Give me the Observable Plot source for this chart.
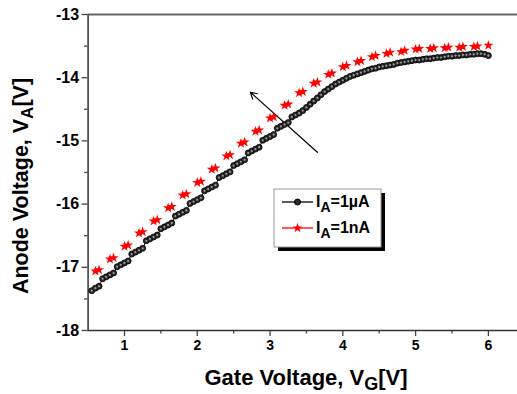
<!DOCTYPE html>
<html>
<head>
<meta charset="utf-8">
<script src="https://cdn.jsdelivr.net/npm/d3@7"></script>
<script src="https://cdn.jsdelivr.net/npm/@observablehq/plot@0.6"></script>
<style>
  html, body { margin: 0; padding: 0; background: #fff; }
  #chart { position: relative; width: 517px; height: 394px; overflow: hidden; }
</style>
</head>
<body>
<div id="chart"></div>
<script>
// ---- data ----
const xTicks = [1, 2, 3, 4, 5, 6];
const xMinor = [1.5, 2.5, 3.5, 4.5, 5.5];
const yTicks = [-18, -17, -16, -15, -14, -13];
const yMinor = [-17.5, -16.5, -15.5, -14.5, -13.5];

// I_A = 1 µA (black circles)
const blackX = [0.55,0.60,0.65,0.70,0.75,0.80,0.85,0.90,0.95,1.00,1.05,1.10,1.15,1.20,1.25,1.30,1.35,1.40,1.45,1.50,1.55,1.60,1.65,1.70,1.75,1.80,1.85,1.90,1.95,2.00,2.05,2.10,2.15,2.20,2.25,2.30,2.35,2.40,2.45,2.50,2.55,2.60,2.65,2.70,2.75,2.80,2.85,2.90,2.95,3.00,3.05,3.10,3.15,3.20,3.25,3.30,3.35,3.40,3.45,3.50,3.55,3.60,3.65,3.70,3.75,3.80,3.85,3.90,3.95,4.00,4.05,4.10,4.15,4.20,4.25,4.30,4.35,4.40,4.45,4.50,4.55,4.60,4.65,4.70,4.75,4.80,4.85,4.90,4.95,5.00,5.05,5.10,5.15,5.20,5.25,5.30,5.35,5.40,5.45,5.50,5.55,5.60,5.65,5.70,5.75,5.80,5.85,5.90,5.95,6.00];
const blackY = [-17.37,-17.33,-17.30,-17.18,-17.15,-17.12,-17.09,-16.99,-16.96,-16.93,-16.90,-16.79,-16.76,-16.73,-16.70,-16.58,-16.55,-16.52,-16.49,-16.39,-16.36,-16.33,-16.30,-16.19,-16.16,-16.13,-16.10,-15.99,-15.96,-15.93,-15.90,-15.79,-15.76,-15.73,-15.70,-15.58,-15.55,-15.52,-15.49,-15.39,-15.36,-15.33,-15.30,-15.19,-15.16,-15.13,-15.10,-14.99,-14.96,-14.93,-14.90,-14.80,-14.77,-14.74,-14.71,-14.62,-14.59,-14.56,-14.52,-14.47,-14.42,-14.37,-14.32,-14.27,-14.22,-14.18,-14.14,-14.10,-14.07,-14.04,-14.01,-13.98,-13.96,-13.94,-13.92,-13.90,-13.88,-13.86,-13.85,-13.83,-13.82,-13.81,-13.80,-13.79,-13.77,-13.76,-13.75,-13.74,-13.73,-13.72,-13.72,-13.71,-13.70,-13.70,-13.69,-13.68,-13.68,-13.67,-13.66,-13.66,-13.65,-13.65,-13.64,-13.64,-13.63,-13.63,-13.62,-13.62,-13.63,-13.65];

// I_A = 1 nA (red stars, plotted in close pairs)
const redX = [0.60,0.65,0.80,0.85,1.00,1.05,1.20,1.25,1.40,1.45,1.60,1.65,1.80,1.85,2.00,2.05,2.20,2.25,2.40,2.45,2.60,2.65,2.80,2.85,3.00,3.05,3.20,3.25,3.40,3.45,3.60,3.65,3.80,3.85,4.00,4.05,4.20,4.25,4.40,4.45,4.60,4.65,4.80,4.85,5.00,5.05,5.20,5.25,5.40,5.45,5.60,5.65,5.80,5.85,6.00];
const redY = [-17.06,-17.04,-16.87,-16.85,-16.67,-16.65,-16.46,-16.44,-16.27,-16.25,-16.06,-16.04,-15.86,-15.84,-15.66,-15.64,-15.45,-15.43,-15.24,-15.22,-15.04,-15.02,-14.85,-14.83,-14.64,-14.62,-14.44,-14.42,-14.24,-14.22,-14.09,-14.07,-13.95,-13.93,-13.83,-13.81,-13.75,-13.73,-13.67,-13.65,-13.62,-13.60,-13.59,-13.57,-13.55,-13.54,-13.54,-13.53,-13.53,-13.52,-13.52,-13.51,-13.51,-13.50,-13.49];

// annotation arrow (tail -> head)
const arrowTail = {x: 3.65, y: -15.18};
const arrowHead = {x: 2.73, y: -14.23};

const seriesLabels = ["=1\u00b5A", "=1nA"];

// ---- build ----
const black = blackX.map((x, i) => ({x, y: blackY[i]}));
const red = redX.map((x, i) => ({x, y: redY[i]}));
const FONT = "'Liberation Sans', Arial, Helvetica, sans-serif";
const W = 517, H = 394;
const mL = 87.6, mT = 14, mB = 64, mR = 0;

const chart = Plot.plot({
  width: W, height: H,
  marginLeft: mL, marginTop: mT, marginBottom: mB, marginRight: mR,
  style: {fontFamily: FONT, fontSize: "14px", fontWeight: "bold", color: "#000", background: "#fff"},
  x: {domain: [0.5, 6.4], axis: null},
  y: {domain: [-18, -13], axis: null},
  marks: [
    Plot.axisX({ticks: xTicks, tickSize: 6, tickPadding: 4, tickFormat: d => String(d), label: null, stroke: "#444", strokeWidth: 1.3, fontSize: 14}),
    Plot.axisX({ticks: xMinor, tickSize: 3.5, tickFormat: () => "", label: null, stroke: "#444", strokeWidth: 1.3}),
    Plot.axisY({ticks: yTicks, tickSize: 6, tickPadding: 3, tickFormat: d => String(d), label: null, stroke: "#444", strokeWidth: 1.3, fontSize: 16}),
    Plot.axisY({ticks: yMinor, tickSize: 3.5, tickFormat: () => "", label: null, stroke: "#444", strokeWidth: 1.3}),
    Plot.ruleY([-18], {stroke: "#333", strokeWidth: 1.5}),
    Plot.ruleY([-13], {stroke: "#666", strokeWidth: 2}),
    Plot.ruleX([0.5], {stroke: "#555", strokeWidth: 1.8}),
    Plot.arrow([0], {x1: () => arrowTail.x, y1: () => arrowTail.y, x2: () => arrowHead.x, y2: () => arrowHead.y, stroke: "#000", strokeWidth: 1.2, headLength: 9}),
    Plot.dot(red, {x: "x", y: "y", symbol: "star", r: 3.2, fill: "#f00", stroke: "none"}),
    Plot.line(black, {x: "x", y: "y", stroke: "#000", strokeWidth: 1}),
    Plot.dot(black, {x: "x", y: "y", r: 3, fill: "#2b2b2b", stroke: "#000", strokeWidth: 0.8}),
    Plot.dot(black, {x: "x", y: "y", r: 1.1, fill: "#9a9a9a", stroke: "none"})
  ]
});
document.getElementById("chart").appendChild(chart);

// ---- axis titles with subscripts, and legend ----
const svg = d3.select(chart);
const cx = 306;
const cy = 186;

const xt = svg.append("text").attr("x", cx).attr("y", 385)
  .attr("text-anchor", "middle").attr("font-family", FONT)
  .attr("font-size", 22).attr("font-weight", "bold").attr("fill", "#000");
xt.append("tspan").text("Gate Voltage, V");
xt.append("tspan").attr("dy", 5).attr("font-size", 18).text("G");
xt.append("tspan").attr("dy", -5).text("[V]");

const yt = svg.append("text").attr("transform", `translate(28,${cy}) rotate(-90)`)
  .attr("text-anchor", "middle").attr("font-family", FONT)
  .attr("font-size", 21.5).attr("font-weight", "bold").attr("fill", "#000");
yt.append("tspan").text("Anode Voltage, V");
yt.append("tspan").attr("dy", 5).attr("font-size", 17).text("A");
yt.append("tspan").attr("dy", -5).text("[V]");

// legend box with shadow
const lg = svg.append("g").attr("text-anchor", "start");
lg.append("rect").attr("x", 278).attr("y", 193).attr("width", 107).attr("height", 58).attr("fill", "#000");
lg.append("rect").attr("x", 274).attr("y", 189).attr("width", 107).attr("height", 58)
  .attr("fill", "#fff").attr("stroke", "#999").attr("stroke-width", 1);

const entries = [
  {y: 202, color: "#000", sym: "circle"},
  {y: 228, color: "#f00", sym: "star"}
];
entries.forEach((e, i) => {
  lg.append("line").attr("x1", 282).attr("x2", 313).attr("y1", e.y).attr("y2", e.y)
    .attr("stroke", e.color).attr("stroke-width", 1.3);
  if (e.sym === "circle") {
    lg.append("circle").attr("cx", 297.5).attr("cy", e.y).attr("r", 3).attr("fill", "#2b2b2b").attr("stroke", "#000");
  } else {
    lg.append("path").attr("d", d3.symbol(d3.symbolStar, 30)()).attr("transform", `translate(297.5,${e.y})`).attr("fill", "#f00");
  }
  const t = lg.append("text").attr("x", 316).attr("y", e.y + 5).attr("text-anchor", "start").attr("font-family", FONT)
    .attr("font-size", 16).attr("font-weight", "bold").attr("fill", "#000");
  t.append("tspan").text("I");
  t.append("tspan").attr("dy", 5).attr("font-size", 14).text("A");
  t.append("tspan").attr("dy", -5).text(seriesLabels[i]);
});
</script>
</body>
</html>
